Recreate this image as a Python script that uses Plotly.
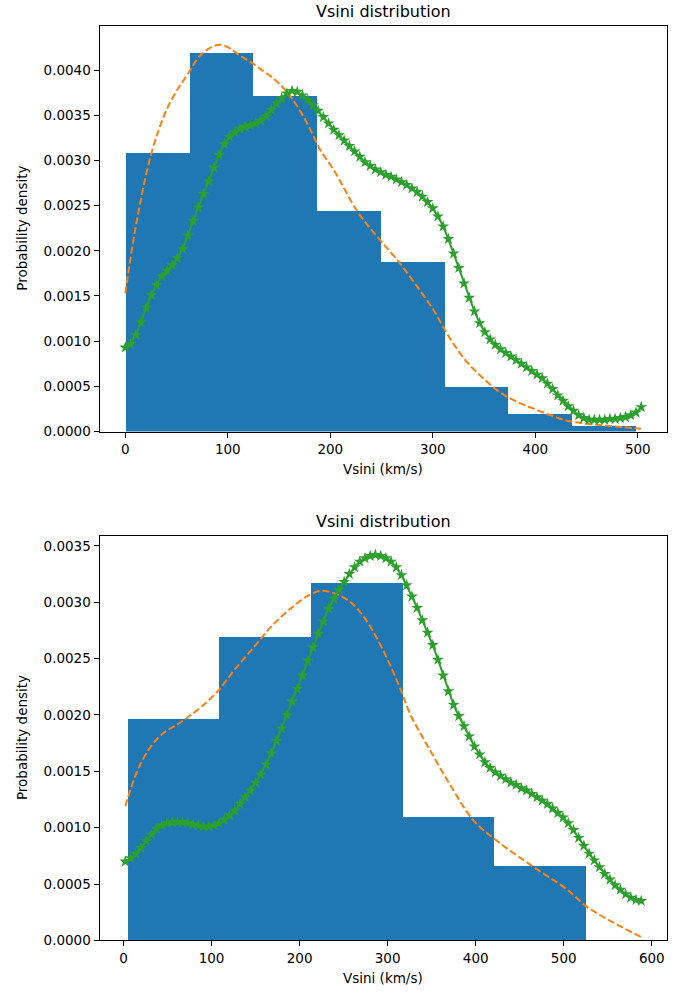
import numpy as np
import plotly.graph_objects as go

# ---------------- data: top panel ----------------
top_bin_edges = [0.0, 62.2, 124.4, 186.6, 248.8, 311.0, 373.2, 435.4, 497.6]
top_hist_density = [0.00309, 0.00419, 0.00372, 0.00244, 0.00188, 0.00050, 0.00020, 0.00006]

top_kde_x = [0, 4, 8, 12, 17, 24, 32, 41, 50, 60, 73, 85, 93, 102, 112, 122, 132, 142, 151,
             161, 171, 181, 190, 203, 214, 225, 236, 250, 268, 285, 301, 311, 322, 334, 350,
             366, 382, 399, 415, 431, 448, 464, 484, 503]
top_kde_y = [0.00153, 0.00184, 0.00213, 0.00238, 0.00267, 0.00302, 0.00332, 0.00358, 0.00377,
             0.00394, 0.00416, 0.00426, 0.00428, 0.00424, 0.00416, 0.00409, 0.00401, 0.00393,
             0.00384, 0.00371, 0.00354, 0.00333, 0.00312, 0.00290, 0.00268, 0.00246, 0.00229,
             0.00210, 0.00186, 0.00160, 0.00134, 0.00114, 0.00094, 0.00076, 0.00058, 0.00043,
             0.00033, 0.00025, 0.00018, 0.00012, 0.00009, 0.00007, 0.00005, 0.00003]

top_grid_start, top_grid_stop = 0.0, 503.3
top_star_y = [0.00093, 0.00097, 0.00107, 0.00121, 0.00137, 0.00151, 0.00162, 0.00172, 0.00178, 0.00184,
              0.00192, 0.00202, 0.00217, 0.00233, 0.00248, 0.00263, 0.00277, 0.00292, 0.00306, 0.00318,
              0.00326, 0.00331, 0.00335, 0.00337, 0.00339, 0.00341, 0.00344, 0.00349, 0.00356, 0.00363,
              0.00369, 0.00374, 0.00377, 0.00376, 0.00372, 0.00367, 0.00361, 0.00355, 0.00348, 0.00341,
              0.00334, 0.00328, 0.00322, 0.00316, 0.00310, 0.00304, 0.00298, 0.00294, 0.00290, 0.00287,
              0.00284, 0.00282, 0.00279, 0.00276, 0.00273, 0.00269, 0.00265, 0.00260, 0.00254, 0.00247,
              0.00238, 0.00227, 0.00213, 0.00197, 0.00181, 0.00164, 0.00148, 0.00133, 0.00120, 0.00110,
              0.00102, 0.00096, 0.00091, 0.00087, 0.00083, 0.00079, 0.00075, 0.00071, 0.00067, 0.00063,
              0.00059, 0.00053, 0.00047, 0.00040, 0.00034, 0.00028, 0.00023, 0.00018, 0.00015, 0.00013,
              0.00013, 0.00013, 0.00013, 0.00014, 0.00014, 0.00015, 0.00016, 0.00018, 0.00021, 0.00027]

# ---------------- data: bottom panel ----------------
bot_bin_edges = [4.1, 108.2, 212.3, 316.4, 420.5, 524.6]
bot_hist_density = [0.00197, 0.00269, 0.00317, 0.00110, 0.00066]

bot_kde_x = [2, 8, 15, 23, 32, 41, 51, 62, 73, 88, 107, 126, 149, 171, 194, 210, 224, 239, 258,
             272, 285, 300, 314, 326, 345, 371, 398, 428, 466, 504, 526, 556, 588]
bot_kde_y = [0.00119, 0.00134, 0.00149, 0.00162, 0.00173, 0.00181, 0.00187, 0.00192, 0.00198,
             0.00207, 0.00221, 0.00240, 0.00261, 0.00281, 0.00297, 0.00306, 0.00310, 0.00308,
             0.00300, 0.00288, 0.00272, 0.00249, 0.00224, 0.00200, 0.00173, 0.00138, 0.00106,
             0.00086, 0.00065, 0.00045, 0.00030, 0.00016, 0.00003]

bot_grid_start, bot_grid_stop = 2.0, 588.0
bot_star_y = [0.00070, 0.00073, 0.00077, 0.00082, 0.00088, 0.00094, 0.00099, 0.00102, 0.00104, 0.00105,
              0.00105, 0.00105, 0.00104, 0.00103, 0.00102, 0.00101, 0.00101, 0.00102, 0.00104, 0.00107,
              0.00111, 0.00115, 0.00121, 0.00127, 0.00133, 0.00140, 0.00147, 0.00156, 0.00166, 0.00177,
              0.00188, 0.00200, 0.00212, 0.00223, 0.00235, 0.00248, 0.00260, 0.00272, 0.00283, 0.00294,
              0.00303, 0.00311, 0.00318, 0.00325, 0.00331, 0.00336, 0.00339, 0.00341, 0.00342, 0.00341,
              0.00339, 0.00336, 0.00331, 0.00324, 0.00315, 0.00305, 0.00295, 0.00284, 0.00273, 0.00262,
              0.00249, 0.00235, 0.00221, 0.00209, 0.00199, 0.00190, 0.00181, 0.00172, 0.00165, 0.00158,
              0.00153, 0.00149, 0.00146, 0.00143, 0.00140, 0.00138, 0.00135, 0.00133, 0.00130, 0.00127,
              0.00124, 0.00121, 0.00117, 0.00113, 0.00109, 0.00104, 0.00098, 0.00091, 0.00084, 0.00077,
              0.00071, 0.00065, 0.00059, 0.00054, 0.00049, 0.00045, 0.00041, 0.00038, 0.00036, 0.00035]

title_text = "Vsini distribution"
xlabel_text = "Vsini (km/s)"
ylabel_text = "Probability density"
top_xticks = [0, 100, 200, 300, 400, 500]
top_yticks = [0.0, 0.0005, 0.0010, 0.0015, 0.0020, 0.0025, 0.0030, 0.0035, 0.0040]
bot_xticks = [0, 100, 200, 300, 400, 500, 600]
bot_yticks = [0.0, 0.0005, 0.0010, 0.0015, 0.0020, 0.0025, 0.0030, 0.0035]

# ---------------- styling / geometry ----------------
W, H = 684, 1001
BLUE, ORANGE, GREEN = "#1f77b4", "#ff7f0e", "#2ca02c"
FONT = "DejaVu Sans"
px_left, px_right = 99.5, 667
top_box = (26, 435)
bot_box = (540, 948)


def ydom(box):
    return [1 - box[1] / H, 1 - box[0] / H]


fig = go.Figure()


def add_panel(edges, dens, kx, ky, g0, g1, gy, xa, ya):
    e = np.asarray(edges, dtype=float)
    centers = (e[:-1] + e[1:]) / 2
    widths = np.diff(e)
    fig.add_trace(go.Bar(x=centers, y=dens, width=widths, marker=dict(color=BLUE, line=dict(width=0)),
                         xaxis=xa, yaxis=ya, showlegend=False))
    fig.add_trace(go.Scatter(x=kx, y=ky, mode="lines",
                             line=dict(color=ORANGE, width=2, dash="7px,3px", shape="spline"),
                             xaxis=xa, yaxis=ya, showlegend=False))
    gx = np.linspace(g0, g1, len(gy))
    fig.add_trace(go.Scatter(x=gx, y=gy, mode="lines+markers",
                             line=dict(color=GREEN, width=2),
                             marker=dict(symbol="star", size=9, color=GREEN, line=dict(width=0)),
                             xaxis=xa, yaxis=ya, showlegend=False))


add_panel(top_bin_edges, top_hist_density, top_kde_x, top_kde_y,
          top_grid_start, top_grid_stop, top_star_y, "x", "y")
add_panel(bot_bin_edges, bot_hist_density, bot_kde_x, bot_kde_y,
          bot_grid_start, bot_grid_stop, bot_star_y, "x2", "y2")

axis_common = dict(showline=True, linecolor="black", linewidth=1, mirror=True,
                   ticks="outside", ticklen=5, tickwidth=1, tickcolor="black",
                   showgrid=False, zeroline=False,
                   tickfont=dict(family=FONT, size=13.5, color="black"))

xdom = [px_left / W, px_right / W]
fig.update_layout(
    width=W, height=H,
    margin=dict(l=0, r=0, t=0, b=0),
    paper_bgcolor="white", plot_bgcolor="white",
    bargap=0, barmode="overlay",
    xaxis=dict(domain=xdom, anchor="y", range=[-25.2, 528.5], tickvals=top_xticks, **axis_common),
    yaxis=dict(domain=ydom(top_box), anchor="x", range=[0, 0.00449], tickvals=top_yticks,
               tickformat=".4f", **axis_common),
    xaxis2=dict(domain=xdom, anchor="y2", range=[-27.3, 617.3], tickvals=bot_xticks, **axis_common),
    yaxis2=dict(domain=ydom(bot_box), anchor="x2", range=[0, 0.00359], tickvals=bot_yticks,
                tickformat=".4f", **axis_common),
)

cx = (px_left + px_right) / 2 / W
ann = []
for box in (top_box, bot_box):
    ann.append(dict(text=title_text, x=cx, y=1 - (box[0] - 14) / H, xref="paper", yref="paper",
                    showarrow=False, xanchor="center", yanchor="middle",
                    font=dict(family=FONT, size=16, color="black")))
    ann.append(dict(text=xlabel_text, x=cx, y=1 - (box[1] + 38) / H, xref="paper", yref="paper",
                    showarrow=False, xanchor="center", yanchor="middle",
                    font=dict(family=FONT, size=13.5, color="black")))
    ann.append(dict(text=ylabel_text, x=22 / W, y=1 - (box[0] + box[1]) / 2 / H,
                    xref="paper", yref="paper",
                    showarrow=False, xanchor="center", yanchor="middle", textangle=-90,
                    font=dict(family=FONT, size=13.5, color="black")))
fig.update_layout(annotations=ann)

# remove the browser's default page margin so the figure sits at the window's corner
fig.write_html("out.html",
               config={"displayModeBar": False},
               post_script="document.body.style.margin='0';document.body.style.padding='0';")
